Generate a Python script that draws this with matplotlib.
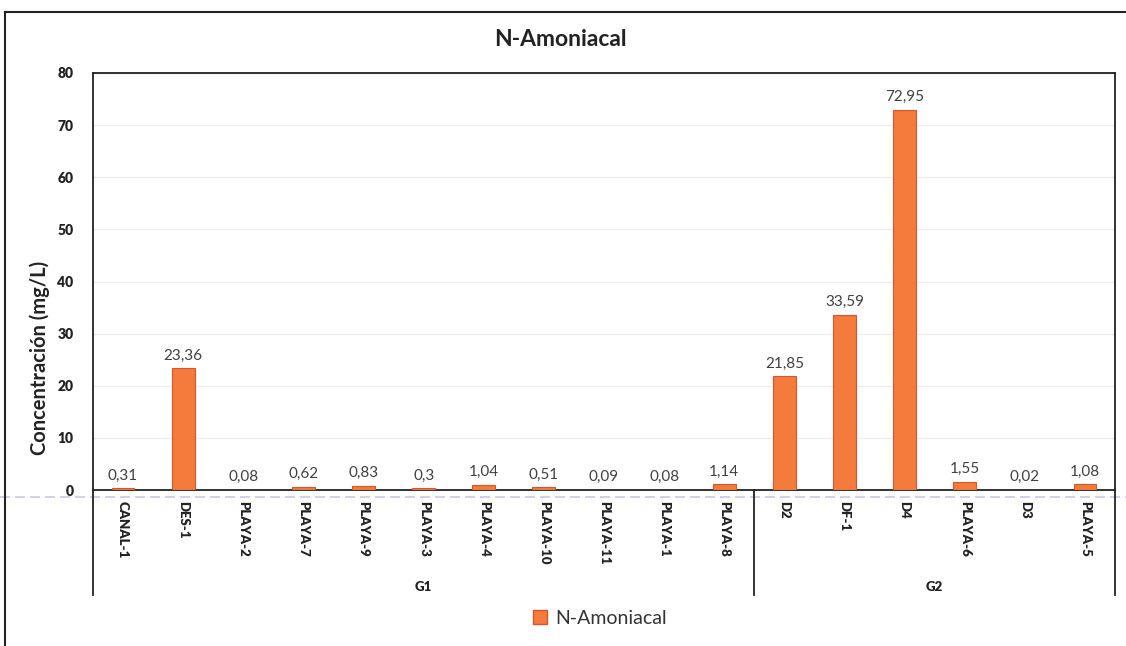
import matplotlib
matplotlib.use("Agg")
import matplotlib.pyplot as plt
from matplotlib.lines import Line2D
from matplotlib.patches import Patch
import numpy as np

plt.rcParams['font.family'] = ['Lato', 'DejaVu Sans']

categories = ["CANAL-1", "DES-1", "PLAYA-2", "PLAYA-7", "PLAYA-9", "PLAYA-3", "PLAYA-4",
              "PLAYA-10", "PLAYA-11", "PLAYA-1", "PLAYA-8",
              "D2", "DF-1", "D4", "PLAYA-6", "D3", "PLAYA-5"]
values = [0.31, 23.36, 0.08, 0.62, 0.83, 0.3, 1.04, 0.51, 0.09, 0.08, 1.14,
          21.85, 33.59, 72.95, 1.55, 0.02, 1.08]
value_labels = ["0,31", "23,36", "0,08", "0,62", "0,83", "0,3", "1,04", "0,51", "0,09", "0,08", "1,14",
                "21,85", "33,59", "72,95", "1,55", "0,02", "1,08"]
groups = ["G1", "G2"]
group_sizes = [11, 6]
yticks = [0, 10, 20, 30, 40, 50, 60, 70, 80]

W, H = 1126, 646
fig = plt.figure(figsize=(W / 100, H / 100), dpi=100)

# scan artefact line and outer border
fig.add_artist(Line2D([0, 1], [1 - 497 / H] * 2, color="#c8c8e6", lw=1.2, ls=(0, (6, 3)), zorder=0))
fig.add_artist(Line2D([5 / W, 1], [1 - 12 / H] * 2, color="#222222", lw=1.5))
fig.add_artist(Line2D([5 / W] * 2, [0, 1 - 12 / H], color="#222222", lw=1.5))

left, right, bottom, top = 93 / W, 1115 / W, 1 - 490 / H, 1 - 73 / H
ax = fig.add_axes([left, bottom, right - left, top - bottom])

x = np.arange(len(categories))
ax.bar(x, values, width=0.38, color="#F47B3B", edgecolor="#D9542A", linewidth=0.8, zorder=3)
for xi, v, lab in zip(x, values, value_labels):
    ax.annotate(lab, (xi, v), xytext=(0, 4), textcoords="offset points",
                ha="center", va="bottom", fontsize=11, color="#404040")

ax.set_xlim(-0.5, len(categories) - 0.5)
ax.set_ylim(0, 80)
ax.set_yticks(yticks)
ax.set_yticklabels([str(t) for t in yticks], fontsize=10, fontweight="heavy", color="#222222")
ax.tick_params(axis="y", length=0, pad=14)
ax.yaxis.grid(True, color="#ececf2", lw=0.8, zorder=0)
ax.set_axisbelow(True)

ax.set_xticks(x)
ax.set_xticklabels(categories, rotation=-90, fontsize=9.5, fontweight="heavy", color="#222222", va="top")
ax.tick_params(axis="x", length=0, pad=8)

for s in ax.spines.values():
    s.set_color("#222222")
    s.set_linewidth(1.3)

# group separators
ybot = -(595 - 490) / (490 - 73) * 80
bounds = np.concatenate([[0], np.cumsum(group_sizes)]) - 0.5
for b in bounds:
    ax.plot([b, b], [0, ybot], color="#222222", lw=1.3, clip_on=False)
yg = -(587 - 490) / (490 - 73) * 80
for g, b0, b1 in zip(groups, bounds[:-1], bounds[1:]):
    ax.text((b0 + b1) / 2, yg, g, ha="center", va="center", fontsize=9.5, fontweight="heavy", color="#222222")

ax.set_ylabel("Concentración (mg/L)", fontsize=14.5, fontweight="bold", color="#222222")
ax.yaxis.set_label_coords(-(93 - 50) / (1115 - 93), (490 - 358) / (490 - 73))

fig.text(560 / W, 1 - 40 / H, "N-Amoniacal", ha="center", va="center", fontsize=16.5, fontweight="bold", color="#222222")

fig.legend(handles=[Patch(facecolor="#F47B3B", edgecolor="#D9542A", label="N-Amoniacal")],
           loc="center", bbox_to_anchor=(600 / W, 1 - 618 / H), frameon=False, fontsize=14,
           handlelength=0.7, handleheight=0.7, handletextpad=0.4, labelcolor="#333333")

fig.savefig("out.png", dpi=100, facecolor="white")
